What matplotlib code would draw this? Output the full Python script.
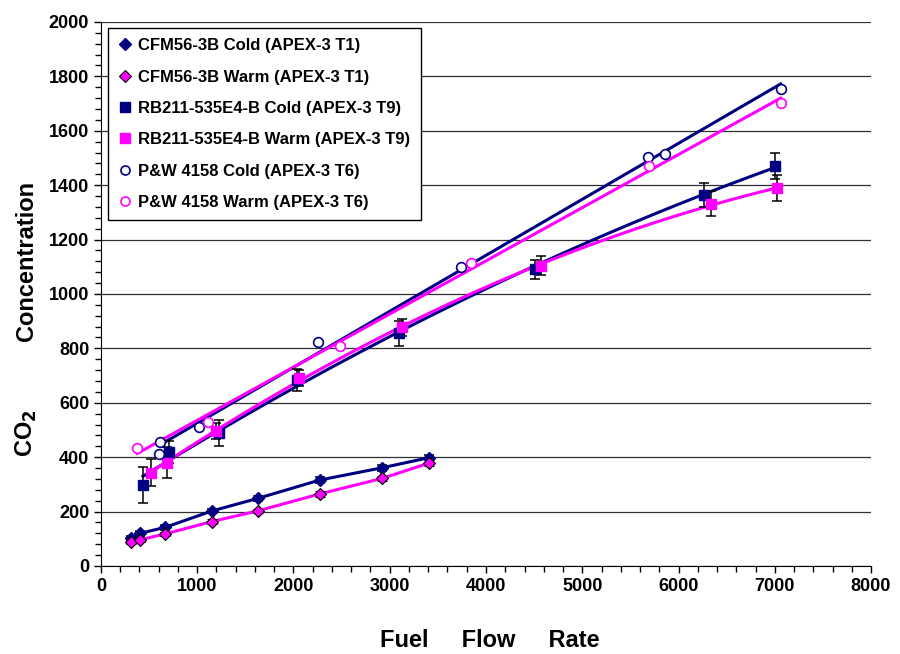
import numpy as np
import matplotlib
matplotlib.use("Agg")
import matplotlib.pyplot as plt
from matplotlib.ticker import MultipleLocator
from matplotlib.lines import Line2D

NAVY = "#000080"
MAGENTA = "#FF00FF"

# CFM56-3B (APEX-3 T1)
cfm_cold_x = [308, 405, 668, 1150, 1634, 2274, 2921, 3406]
cfm_cold_y = [102, 120, 142, 202, 249, 316, 361, 398]
cfm_cold_err = [10, 10, 8, 8, 10, 10, 10, 10]
cfm_warm_x = [308, 405, 668, 1150, 1634, 2274, 2921, 3406]
cfm_warm_y = [89, 96, 118, 163, 203, 265, 322, 378]
cfm_warm_err = [8, 8, 8, 8, 8, 10, 10, 12]

# RB211-535E4-B (APEX-3 T9)
rb_cold_x = [436, 703, 1229, 2038, 3094, 4507, 6265, 6999]
rb_cold_y = [298, 420, 488, 684, 855, 1091, 1364, 1471]
rb_cold_err = [66, 40, 47, 40, 46, 35, 44, 48]
rb_warm_x = [519, 682, 1194, 2053, 3129, 4576, 6342, 7023]
rb_warm_y = [343, 380, 497, 692, 877, 1104, 1331, 1389]
rb_warm_err = [49, 57, 30, 30, 30, 35, 46, 48]

# P&W 4158 (APEX-3 T6)
pw_cold_x = [606, 613, 1021, 2257, 3745, 5684, 5860, 7061]
pw_cold_y = [411, 455, 512, 825, 1100, 1505, 1515, 1753]
pw_warm_x = [377, 1108, 2482, 3849, 5694, 7061]
pw_warm_y = [435, 530, 809, 1113, 1471, 1703]

legend_labels = ['CFM56-3B Cold (APEX-3 T1)', 'CFM56-3B Warm (APEX-3 T1)',
                 'RB211-535E4-B Cold (APEX-3 T9)', 'RB211-535E4-B Warm (APEX-3 T9)',
                 'P&W 4158 Cold (APEX-3 T6)', 'P&W 4158 Warm (APEX-3 T6)']

plt.rcParams['font.family'] = ['Liberation Sans', 'DejaVu Sans']
plt.rcParams['font.weight'] = 'bold'

fig = plt.figure(figsize=(9, 6.54), dpi=100, facecolor='white')
ax = fig.add_axes([0.1122, 0.1346, 0.8556, 0.8318])

ax.set_xlim(0, 8000)
ax.set_ylim(0, 2000)
ax.xaxis.set_major_locator(MultipleLocator(1000))
ax.xaxis.set_minor_locator(MultipleLocator(200))
ax.yaxis.set_major_locator(MultipleLocator(200))
ax.yaxis.set_minor_locator(MultipleLocator(40))
ax.grid(axis='y', which='major', color='#303030', linewidth=0.9)
ax.set_axisbelow(True)
for s in ['top', 'right']:
    ax.spines[s].set_visible(False)
ax.tick_params(which='major', direction='out', length=5, width=1, labelsize=13)
ax.tick_params(which='minor', direction='out', length=4, width=1)
for lab in ax.get_xticklabels() + ax.get_yticklabels():
    lab.set_fontweight('bold')

# trend lines (linear for P&W, 2nd order for RB211)
def trend(x, y, deg, color):
    c = np.polyfit(x, y, deg)
    xs = np.linspace(min(x), max(x), 100)
    ax.plot(xs, np.polyval(c, xs), color=color, lw=2.2, zorder=2)

trend(pw_cold_x, pw_cold_y, 1, NAVY)
trend(pw_warm_x, pw_warm_y, 1, MAGENTA)
trend(rb_cold_x, rb_cold_y, 2, NAVY)
trend(rb_warm_x, rb_warm_y, 2, MAGENTA)
ax.plot(cfm_cold_x, cfm_cold_y, color=NAVY, lw=2.2, zorder=2)
ax.plot(cfm_warm_x, cfm_warm_y, color=MAGENTA, lw=2.2, zorder=2)

eb = dict(ecolor='black', elinewidth=1.1, capsize=3.5, capthick=1.1, linestyle='none', zorder=3)
ax.errorbar(cfm_cold_x, cfm_cold_y, yerr=cfm_cold_err, marker='D', ms=6.5, mfc=NAVY, mec=NAVY, **eb)
ax.errorbar(cfm_warm_x, cfm_warm_y, yerr=cfm_warm_err, marker='D', ms=6.5, mfc=MAGENTA, mec='black',
            mew=0.8, **eb)
ax.errorbar(rb_cold_x, rb_cold_y, yerr=rb_cold_err, marker='s', ms=7.5, mfc=NAVY, mec=NAVY, **eb)
ax.errorbar(rb_warm_x, rb_warm_y, yerr=rb_warm_err, marker='s', ms=7.5, mfc=MAGENTA, mec=MAGENTA, **eb)
ax.plot(pw_cold_x, pw_cold_y, 'o', ms=7, mfc='white', mec=NAVY, mew=1.2, zorder=4)
ax.plot(pw_warm_x, pw_warm_y, 'o', ms=7, mfc='white', mec=MAGENTA, mew=1.2, zorder=4)

leg_handles = [
    Line2D([], [], ls='none', marker='D', ms=6.5, mfc=NAVY, mec=NAVY),
    Line2D([], [], ls='none', marker='D', ms=6.5, mfc=MAGENTA, mec='black', mew=0.8),
    Line2D([], [], ls='none', marker='s', ms=6.5, mfc=NAVY, mec=NAVY),
    Line2D([], [], ls='none', marker='s', ms=6.5, mfc=MAGENTA, mec=MAGENTA),
    Line2D([], [], ls='none', marker='o', ms=6.5, mfc='white', mec=NAVY, mew=1.2),
    Line2D([], [], ls='none', marker='o', ms=6.5, mfc='white', mec=MAGENTA, mew=1.2),
]
leg = ax.legend(leg_handles, legend_labels, loc='upper left', bbox_to_anchor=(0.009, 0.989),
                prop={'weight': 'bold', 'size': 12}, frameon=True, fancybox=False,
                edgecolor='black', framealpha=1, labelspacing=0.98, handlelength=0.8,
                handletextpad=0.4, borderpad=0.62, borderaxespad=0.0)
leg.get_frame().set_linewidth(1.0)

fig.text(0.544, 0.021, 'Fuel     Flow     Rate', ha='center', va='center',
         fontsize=17, fontweight='bold')
fig.text(0.029, 0.338, 'CO$_\\mathbf{2}$', rotation=90, ha='center', va='center',
         fontsize=17, fontweight='bold')
fig.text(0.029, 0.601, 'Concentration', rotation=90, ha='center', va='center',
         fontsize=17, fontweight='bold')

plt.savefig('out.png', dpi=100, facecolor='white')
plt.close()
